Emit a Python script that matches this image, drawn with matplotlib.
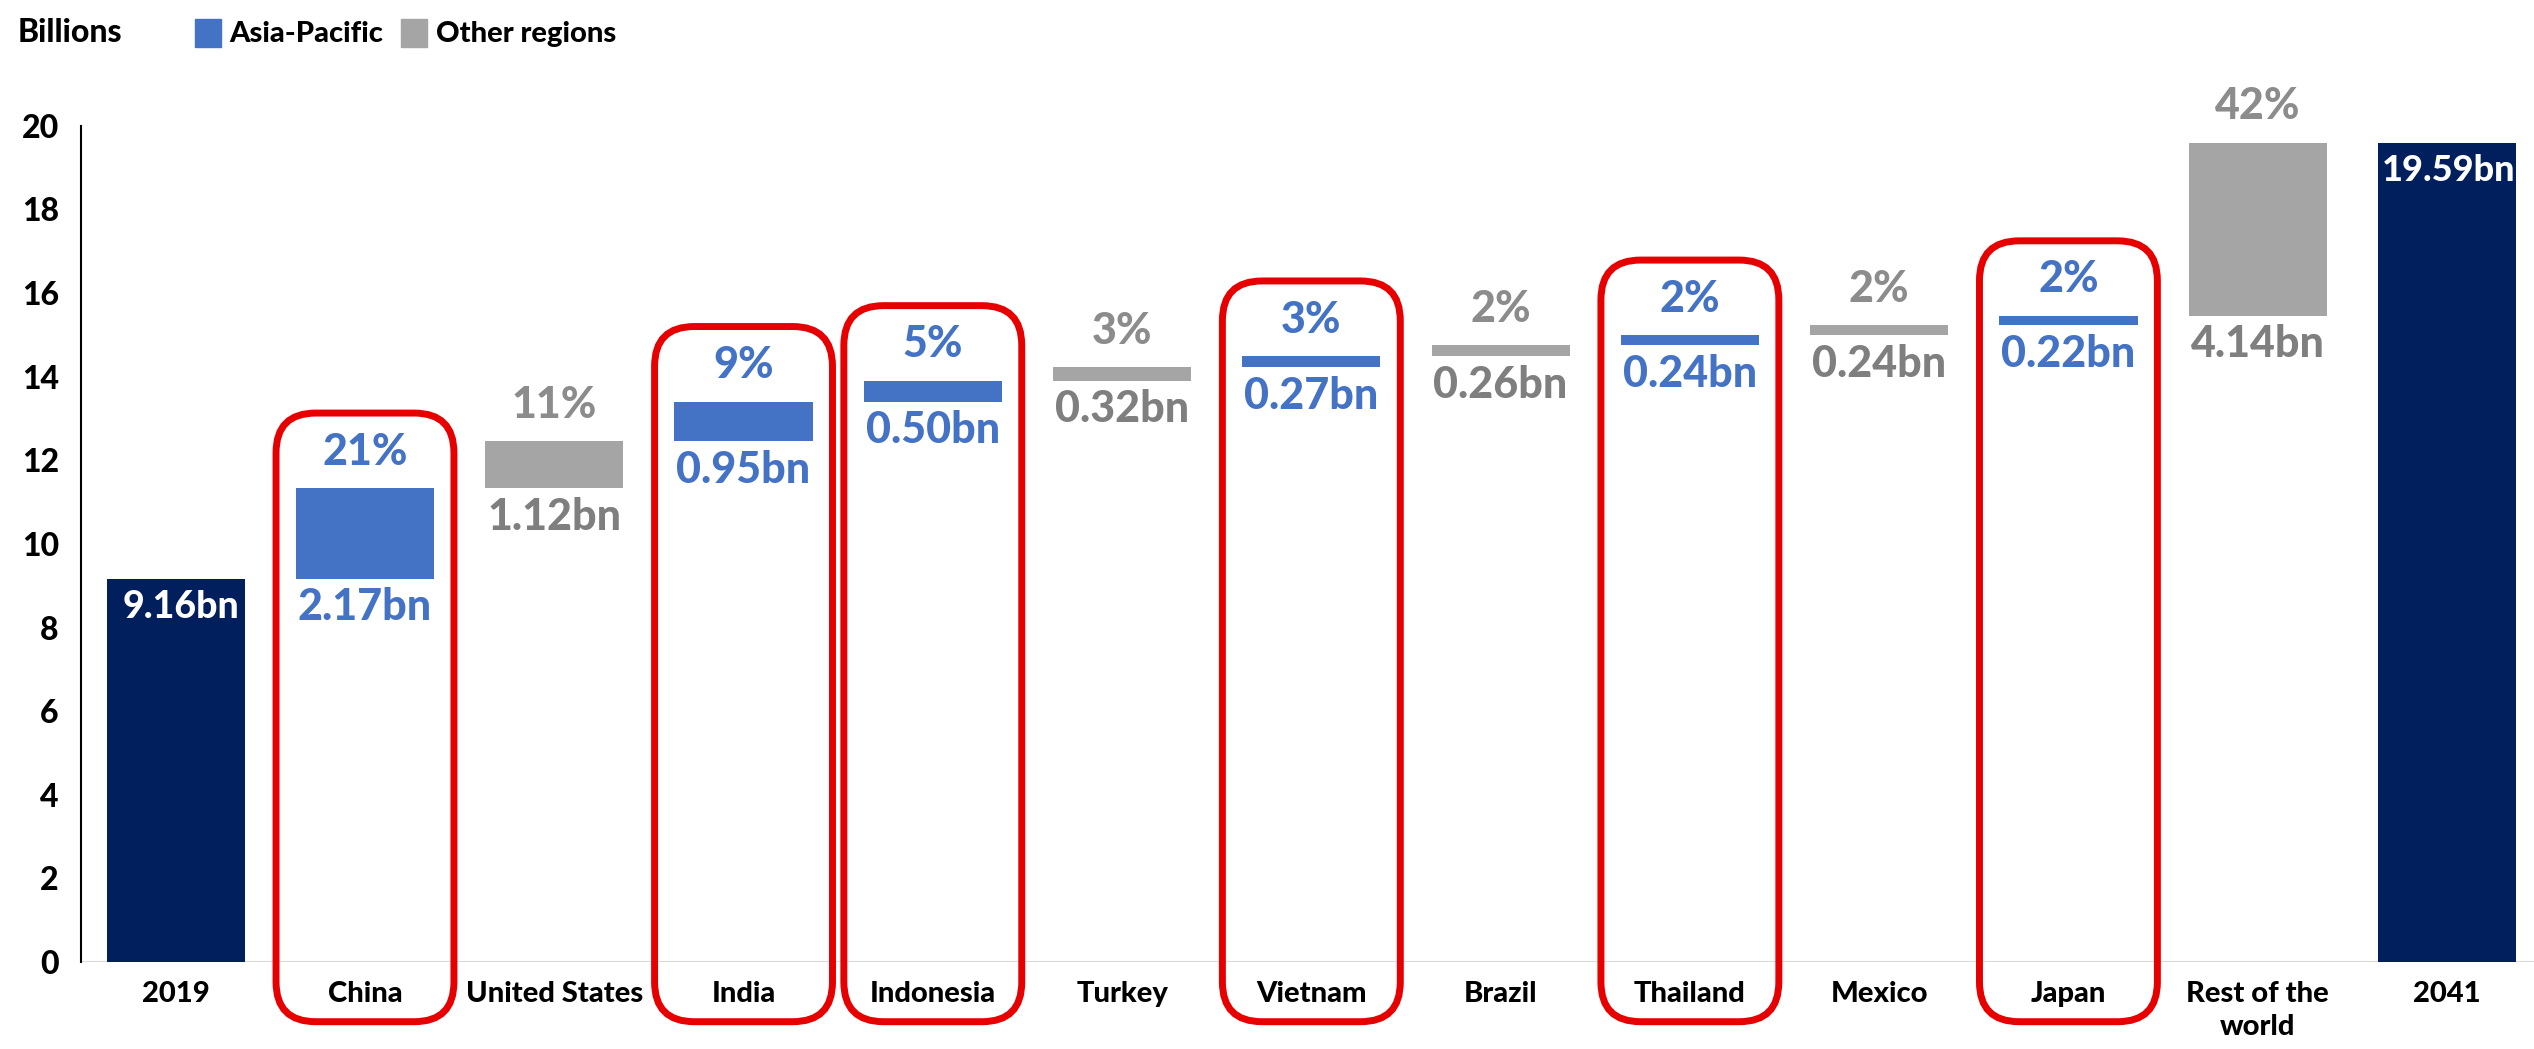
import matplotlib
matplotlib.use("Agg")
import matplotlib.pyplot as plt
from matplotlib.patches import FancyBboxPatch, Patch
import numpy as np

# waterfall data, billions
categories = ["2019", "China", "United States", "India", "Indonesia", "Turkey",
              "Vietnam", "Brazil", "Thailand", "Mexico", "Japan",
              "Rest of the\nworld", "2041"]
start_total = 9.16
end_total = 19.59
increments = [2.17, 1.12, 0.95, 0.50, 0.32, 0.27, 0.26, 0.24, 0.24, 0.22, 4.14]
shares = ["21%", "11%", "9%", "5%", "3%", "3%", "2%", "2%", "2%", "2%", "42%"]
asia_pacific = [True, False, True, True, False, True, False, True, False, True, False]

navy = "#001F5C"
blue = "#4472C4"
grey = "#A5A5A5"
grey_text = "#7F7F7F"
red = "#E60000"

plt.rcParams["font.family"] = ["Lato", "DejaVu Sans"]
plt.rcParams["font.weight"] = "black"

fig = plt.figure(figsize=(25.34, 10.49), dpi=100)
ax = fig.add_axes([0.032, 0.083, 0.971, 0.797])

x = np.arange(len(categories))
bottoms = start_total + np.concatenate([[0], np.cumsum(increments)[:-1]])
tops = bottoms + np.array(increments)
colors = [blue if ap else grey for ap in asia_pacific]

w = 0.73
ax.bar(x[0], start_total, width=w, color=navy, zorder=2)
ax.bar(x[1:-1], increments, bottom=bottoms, width=w, color=colors, zorder=2)
ax.bar(x[-1], end_total, width=w, color=navy, zorder=2)

# totals inside the end bars
ax.annotate(f"{start_total:.2f}bn", (x[0], start_total), xytext=(4, -8),
            textcoords="offset points", ha="center", va="top",
            color="white", fontsize=27)
ax.annotate(f"{end_total:.2f}bn", (x[-1], end_total), xytext=(1, -8),
            textcoords="offset points", ha="center", va="top",
            color="white", fontsize=26)

# share above, increment below each floating bar
for i in range(len(increments)):
    tc = blue if asia_pacific[i] else grey_text
    pc = blue if asia_pacific[i] else "#8C8C8C"
    ax.annotate(shares[i], (x[i + 1], tops[i]), xytext=(0, 12),
                textcoords="offset points", ha="center", va="bottom",
                color=pc, fontsize=31, annotation_clip=False)
    ax.annotate(f"{increments[i]:.2f}bn", (x[i + 1], bottoms[i]), xytext=(0, -6),
                textcoords="offset points", ha="center", va="top",
                color=tc, fontsize=31)

ax.set_xlim(-0.5, len(categories) - 0.5)
ax.set_ylim(0, 20)
ax.set_yticks(range(0, 21, 2))
ax.set_xticks(x)
ax.set_xticklabels(categories, fontsize=21, linespacing=1.3)
ax.tick_params(axis="y", length=0, pad=16, labelsize=23)
ax.tick_params(axis="x", length=0, pad=14)
for s in ["top", "right", "bottom"]:
    ax.spines[s].set_visible(False)
ax.spines["left"].set_linewidth(1.5)
ax.axhline(0, color="#D9D9D9", lw=1.5, zorder=1)

# red rounded frames around the Asia-Pacific columns
fig.canvas.draw()
bb = ax.get_window_extent()
px_x = bb.width / (len(categories))
px_y = bb.height / 20
aspect = px_x / px_y
for i in range(len(increments)):
    if not asia_pacific[i]:
        continue
    y0 = -1.43
    y1 = tops[i] + 1.8
    box = FancyBboxPatch((x[i + 1] - 0.47, y0), 0.94, y1 - y0,
                         boxstyle="round,pad=0,rounding_size=0.21",
                         mutation_aspect=aspect, fill=False, ec=red,
                         lw=5, clip_on=False, zorder=3)
    ax.add_patch(box)

fig.text(18 / 2534, 1 - 33 / 1049, "Billions", fontsize=23, va="center")
handles = [Patch(color=blue, label="Asia-Pacific"),
           Patch(color=grey, label="Other regions")]
fig.legend(handles=handles, loc="center left",
           bbox_to_anchor=(180 / 2534, 1 - 33 / 1049), ncol=2,
           frameon=False, fontsize=21, handlelength=0.9, handleheight=1.1,
           handletextpad=0.3, columnspacing=0.6, borderpad=0)

fig.savefig("out.png", dpi=100)
